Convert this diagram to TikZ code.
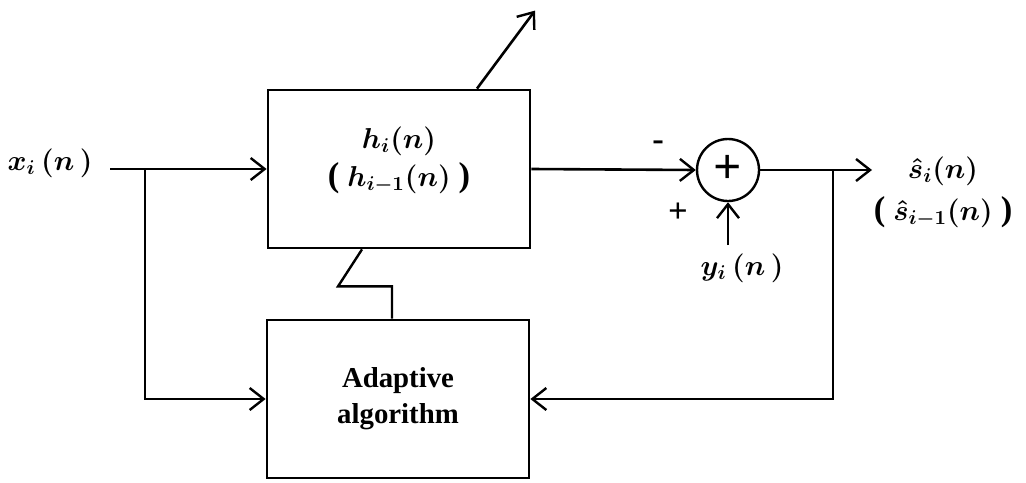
\documentclass[tikz,border=0pt]{standalone}
\usepackage{amsmath,amssymb}
\usepackage{fontspec}
\setmainfont{Liberation Serif}
\usepackage{tikz}
\usetikzlibrary{arrows.meta,positioning,calc}

\newcommand{\bpl}{{\LARGE\bfseries(}}
\newcommand{\bpr}{{\LARGE\bfseries)}}

\begin{document}
\begin{tikzpicture}[
  x=0.5pt,y=-0.5pt,
  blk/.style={draw,line width=1.4pt,minimum width=131pt,minimum height=79pt,align=center,inner sep=0pt},
  adder/.style={draw,circle,line width=1.2pt,minimum size=31pt,inner sep=0pt,font=\Huge\bfseries},
  lbl/.style={font=\Large\boldmath,inner sep=1pt},
  arr/.style={line width=1.3pt,-{Straight Barb[length=7pt,width=11pt,line width=1.2pt]}},
  ln/.style={line width=1.2pt}
]
\useasboundingbox (0,0) rectangle (1026,482);

% blocks
\node[blk] (filt) at (399,169) {};
\node[lbl,align=center] at (399,160) {$h_i(n)$\\[1pt]\bpl\;$h_{i-1}(n)$\;\bpr};
\node[blk,font=\Large\bfseries] (adapt) at (398,399) {Adaptive\\algorithm};
\node[adder] (sum) at (728,170) {\raisebox{1pt}{+}};

% labels
\node[lbl] (xin) at (50,163) {$x_i\,(n\,)$};
\node[lbl] (yin) at (742,268) {$y_i\,(n\,)$};
\node[lbl,align=center] (sout) at (943,192) {$\hat{s}_i(n)$\\[3pt]\bpl\;$\hat{s}_{i-1}(n)$\;\bpr};
\node[font=\LARGE\bfseries] (mns) at (658,146) {-};
\node[font=\LARGE\bfseries] (pls) at (678,213) {+};

\coordinate (xs) at (110,169);
\coordinate (br) at (145,169);
\coordinate (tap) at (833,170);
\coordinate (oe) at (872,170);
\coordinate (ys) at (728,245);

% signal paths
\draw[arr] (xs) -- (filt.west);
\draw[arr] (br) |- (adapt.west);
\draw[arr] (filt.east) -- (sum.west);
\draw[arr] (sum.east) -- (oe);
\draw[arr] (tap) |- (adapt.east);
\draw[arr] (ys) -- (sum.south);

% adaptation
\draw[arr] ([xshift=39pt]filt.north) -- ++(58,-78);
\draw[ln] ([xshift=-18.5pt]filt.south) -- ++(-24,37) -| ([xshift=-3pt]adapt.north);
\end{tikzpicture}
\end{document}
